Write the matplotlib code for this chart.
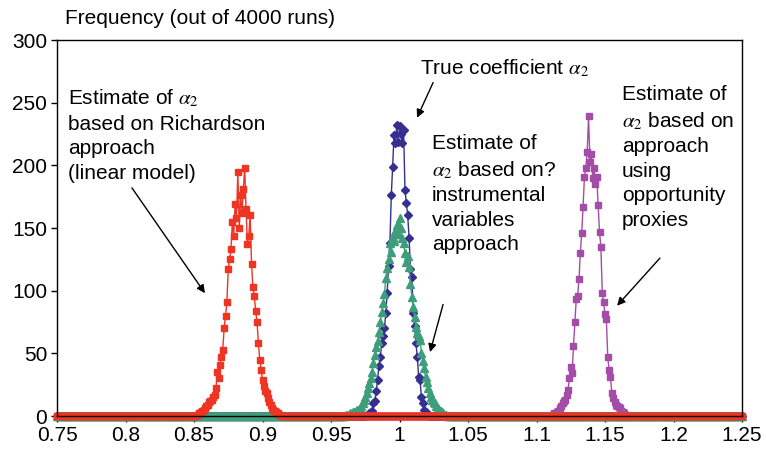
import numpy as np
import matplotlib
matplotlib.use("Agg")
import matplotlib.pyplot as plt

plt.rcParams['font.family'] = ['Liberation Sans', 'DejaVu Sans']
plt.rcParams['mathtext.fontset'] = 'stix'

# bin centres of the simulated estimates (bin width 0.001)
bins = np.round(np.arange(750, 1251) / 1000, 3)

# counts per bin, given from the first non-empty bin onward
red_start = 0.850
red_counts = [0, 0, 1, 1, 2, 3, 4, 5, 6, 8, 9, 11, 12, 13, 15, 17, 22, 35, 30, 41,
              47, 53, 70, 80, 91, 117, 125, 133, 155, 144, 169, 158, 195, 150, 176,
              162, 181, 198, 165, 137, 144, 160, 121, 103, 96, 84, 75, 58, 45, 37,
              29, 24, 20, 18, 14, 11, 9, 6, 5, 4, 3, 2, 1, 1, 0]

blue_start = 0.975
blue_counts = [0, 1, 1, 2, 3, 4, 10, 12, 20, 29, 40, 47, 58, 64, 70, 82, 98, 120,
               138, 176, 199, 224, 218, 232, 219, 231, 225, 218, 228, 180, 170, 160,
               142, 117, 111, 82, 72, 58, 47, 31, 29, 15, 10, 5, 3, 2, 1, 0]

green_start = 0.960
green_counts = [0, 1, 1, 1, 2, 2, 3, 3, 4, 5, 5, 6, 8, 10, 13, 15, 18, 22, 26, 30,
                35, 42, 49, 55, 60, 67, 75, 83, 90, 97, 110, 118, 125, 138, 131, 143,
                140, 148, 152, 145, 158, 150, 142, 138, 130, 123, 128, 119, 105, 95,
                87, 79, 71, 66, 64, 61, 50, 44, 38, 31, 27, 22, 18, 15, 13, 11, 10,
                8, 6, 5, 4, 3, 2, 1, 1, 0]

purple_start = 1.110
purple_counts = [0, 1, 1, 2, 2, 3, 4, 6, 8, 10, 12, 13, 17, 21, 30, 39, 34, 56, 75,
                 93, 96, 109, 130, 146, 167, 191, 198, 211, 239, 203, 209, 190, 198,
                 185, 191, 168, 147, 135, 98, 91, 81, 77, 47, 37, 31, 18, 14, 11, 9,
                 8, 7, 6, 4, 3, 2, 1, 0]


def full_series(start, counts):
    y = np.zeros(len(bins))
    i = int(np.argmin(np.abs(bins - start)))
    y[i:i + len(counts)] = counts
    return y


red = full_series(red_start, red_counts)
blue = full_series(blue_start, blue_counts)
green = full_series(green_start, green_counts)
purple = full_series(purple_start, purple_counts)

c_red = '#EE3524'
c_blue = '#35308F'
c_green = '#3E9E7B'
c_purple = '#A34DA6'

fig = plt.figure(figsize=(7.66, 4.54), dpi=100)
ax = fig.add_axes([57 / 766, 1 - 416 / 454, 685 / 766, 376 / 454])

ax.plot(bins, blue, color=c_blue, lw=1, marker='D', ms=3.8, mec=c_blue, clip_on=False)
ax.plot(bins, purple, color=c_purple, lw=1, marker='s', ms=4.5, mec=c_purple, clip_on=False)
ax.plot(bins, green, color=c_green, lw=1, marker='^', ms=5.3, mec=c_green, clip_on=False)
ax.plot(bins, red, color=c_red, lw=1, marker='s', ms=4.8, mec=c_red, clip_on=False)

ax.set_xlim(0.75, 1.25)
ax.set_ylim(0, 300)
ax.set_xticks(np.round(np.arange(0.75, 1.2501, 0.05), 2))
ax.set_xticklabels(['0.75', '0.8', '0.85', '0.9', '0.95', '1', '1.05', '1.1', '1.15', '1.2', '1.25'])
ax.set_yticks(range(0, 301, 50))
ax.tick_params(labelsize=15, length=4, width=1, direction='out', pad=3)
for s in ax.spines.values():
    s.set_linewidth(1)

fig.text(65 / 766, 1 - 18 / 454, 'Frequency (out of 4000 runs)', fontsize=15, va='center')

txt = dict(fontsize=15, va='top', ha='left', linespacing=1.36)
ax.text(0.758, 262, 'Estimate of $\\alpha_2$\nbased on Richardson\napproach\n(linear model)', **txt)
ax.text(1.015, 286, 'True coefficient $\\alpha_2$', **txt)
ax.text(1.0237, 225, 'Estimate of\n$\\alpha_2$ based on?\ninstrumental\nvariables\napproach', **txt)
ax.text(1.1624, 264, 'Estimate of\n$\\alpha_2$ based on\napproach\nusing\nopportunity\nproxies', **txt)

arrow = dict(arrowstyle='-|>', color='black', lw=1, mutation_scale=12, shrinkA=0, shrinkB=0)
ax.annotate('', xy=(0.858, 98), xytext=(0.8047, 182), arrowprops=arrow)
ax.annotate('', xy=(1.0128, 238), xytext=(1.0245, 266), arrowprops=arrow)
ax.annotate('', xy=(1.0223, 51), xytext=(1.0318, 89), arrowprops=arrow)
ax.annotate('', xy=(1.1588, 88), xytext=(1.1901, 126), arrowprops=arrow)

fig.savefig('out.png', dpi=100)
